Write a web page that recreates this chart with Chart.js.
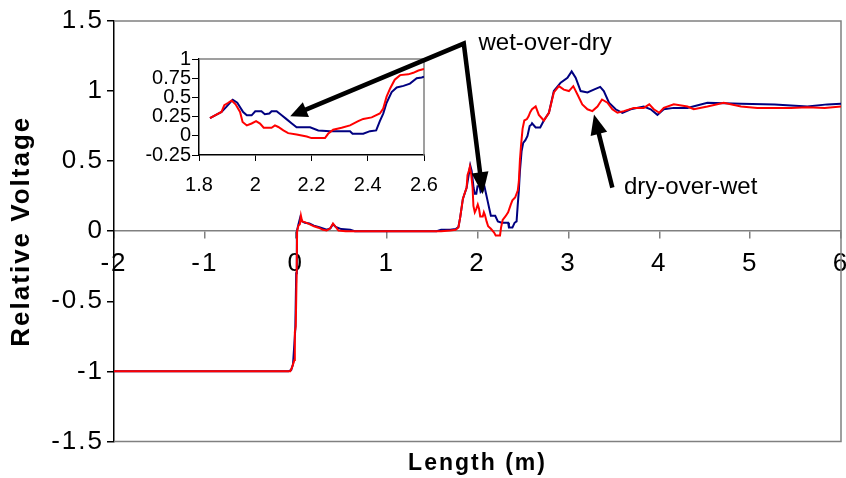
<!DOCTYPE html>
<html>
<head>
<meta charset="utf-8">
<script src="https://cdn.jsdelivr.net/npm/chart.js@4.4.1/dist/chart.umd.min.js"></script>
<style>
  html, body { margin: 0; padding: 0; background: #fff; }
  #wrap { position: relative; width: 846px; height: 478px; overflow: hidden; }
  #main { position: absolute; left: 0; top: 0; z-index: 2; }
  #inset { position: absolute; left: 120px; top: 40px; z-index: 1; }
</style>
</head>
<body>
<div id="wrap">
  <canvas id="inset" width="320" height="165"></canvas>
  <canvas id="main" width="846" height="478"></canvas>
</div>
<script>
// --- Dades (llegides del gràfic) ---
const redX = [-2, -0.06, -0.04, -0.015, -0.01, 0.0, 0.01, 0.015, 0.03, 0.045, 0.057, 0.07, 0.1, 0.15, 0.2, 0.25, 0.3, 0.34, 0.38, 0.41, 0.44, 0.47, 0.55,
  1.6, 1.7, 1.76, 1.79, 1.81, 1.839, 1.857, 1.88, 1.89, 1.904, 1.916, 1.93, 1.946, 1.955, 1.97, 1.987, 2.003, 2.017, 2.03, 2.058, 2.07, 2.082,
  2.10, 2.117, 2.147, 2.183, 2.20, 2.248, 2.259, 2.277, 2.307, 2.337, 2.366, 2.384, 2.414, 2.443, 2.455, 2.467, 2.48, 2.496, 2.515, 2.544,
  2.562, 2.58, 2.60, 2.64, 2.675, 2.73, 2.786, 2.84, 2.896, 2.95, 3.006, 3.054, 3.10, 3.153, 3.21, 3.264, 3.32, 3.37, 3.43, 3.484, 3.54,
  3.61, 3.72, 3.83, 3.89, 3.94, 4.0, 4.05, 4.16, 4.31, 4.38, 4.53, 4.71, 4.90, 5.08, 5.27, 5.45, 5.63, 5.82, 6.0];
const redY = [-1, -1, -0.97, -0.92, -0.72, -0.68, -0.3, 0.0, 0.04, 0.05, 0.11, 0.07, 0.065, 0.05, 0.035, 0.025, 0.01, 0.005, 0.02, 0.055, 0.03, 0.005, 0,
  0, 0.005, 0.01, 0.026, 0.1, 0.23, 0.267, 0.31, 0.40, 0.43, 0.46, 0.41, 0.31, 0.18, 0.135, 0.16, 0.19, 0.16, 0.105, 0.105, 0.135, 0.115,
  0.07, 0.035, 0.017, -0.01, -0.03, -0.03, 0.026, 0.08, 0.105, 0.135, 0.19, 0.22, 0.24, 0.29, 0.355, 0.51, 0.62, 0.73, 0.79, 0.80,
  0.82, 0.85, 0.87, 0.89, 0.83, 0.79, 0.845, 0.99, 1.035, 1.01, 1.0, 1.035, 0.976, 0.905, 0.87, 0.857, 0.89, 0.94, 0.917, 0.87, 0.845,
  0.857, 0.88, 0.88, 0.905, 0.87, 0.845, 0.88, 0.905, 0.89, 0.87, 0.89, 0.917, 0.89, 0.88, 0.88, 0.88, 0.885, 0.88, 0.89];

const blueX = [-2, -0.08, -0.05, -0.03, -0.015, -0.005, 0.005, 0.012, 0.03, 0.05, 0.07, 0.1, 0.15, 0.2, 0.25, 0.3, 0.34, 0.38, 0.41, 0.44, 0.5, 0.6, 0.65,
  1.55, 1.6, 1.7, 1.76, 1.79, 1.81, 1.839, 1.88, 1.898, 1.92, 1.936, 1.957, 1.97, 1.987, 2.0, 2.022, 2.034, 2.05, 2.058, 2.076, 2.094, 2.11,
  2.13, 2.147, 2.195, 2.224, 2.266, 2.337, 2.346, 2.384, 2.408, 2.43, 2.443, 2.455, 2.467, 2.485, 2.503, 2.527, 2.55, 2.574, 2.592, 2.60,
  2.64, 2.69, 2.73, 2.786, 2.84, 2.915, 2.99, 3.036, 3.08, 3.135, 3.21, 3.28, 3.35, 3.39, 3.447, 3.52, 3.594, 3.686, 3.83, 3.906, 3.98,
  4.05, 4.16, 4.31, 4.53, 4.90, 5.27, 5.63, 5.85, 6.0];
const blueY = [-1, -1, -0.99, -0.95, -0.8, -0.7, -0.3, 0.0, 0.05, 0.1, 0.07, 0.06, 0.055, 0.04, 0.03, 0.02, 0.01, 0.02, 0.05, 0.03, 0.015, 0.01, 0,
  0, 0.01, 0.01, 0.015, 0.03, 0.1, 0.23, 0.31, 0.38, 0.47, 0.43, 0.31, 0.267, 0.267, 0.32, 0.32, 0.28, 0.29, 0.32, 0.32, 0.267, 0.22,
  0.16, 0.11, 0.11, 0.07, 0.06, 0.06, 0.026, 0.026, 0.06, 0.07, 0.19, 0.29, 0.43, 0.57, 0.63, 0.65, 0.68, 0.75, 0.76, 0.77,
  0.74, 0.74, 0.79, 0.845, 1.0, 1.06, 1.095, 1.14, 1.095, 1.0, 0.99, 1.01, 1.03, 1.0, 0.917, 0.87, 0.845, 0.87, 0.89, 0.87, 0.83,
  0.87, 0.88, 0.88, 0.917, 0.91, 0.905, 0.89, 0.905, 0.91];

const xTicks = [-2, -1, 0, 1, 2, 3, 4, 5, 6];
const xTickLabels = ['-2', '-1', '0', '1', '2', '3', '4', '5', '6'];
const yTicks = [-1.5, -1, -0.5, 0, 0.5, 1, 1.5];
const yTickLabels = ['-1.5', '-1', '-0.5', '0', '0.5', '1', '1.5'];

const insetXTicks = [1.8, 2, 2.2, 2.4, 2.6];
const insetXTickLabels = ['1.8', '2', '2.2', '2.4', '2.6'];
const insetYTicks = [-0.25, 0, 0.25, 0.5, 0.75, 1];
const insetYTickLabels = ['-0.25', '0', '0.25', '0.5', '0.75', '1'];
const insetRange = [1.835, 2.605];

// Anotacions (en unitats de dades del gràfic principal)
const wetArrow = { tipInset: [-0.061, 0.821], vertex: [1.849, 1.339], tipMain: [2.058, 0.264] };
const dryArrow = { tip: [3.282, 0.833], tail: [3.484, 0.311] };
const labels = [
  { text: 'wet-over-dry', at: [2.011, 1.291] },
  { text: 'dry-over-wet', at: [3.612, 0.268] },
];

const FONT = '"Liberation Sans", Arial, sans-serif';
Chart.defaults.font.family = FONT;
Chart.defaults.color = '#000';

const RED = '#ff0000';
const BLUE = '#000080';

function points(xs, ys, range) {
  const pts = xs.map((x, i) => ({ x, y: ys[i] }));
  return range ? pts.filter(p => p.x >= range[0] && p.x <= range[1]) : pts;
}

function makeDataset(label, color, data) {
  return { label, data, showLine: true, borderColor: color, borderWidth: 2, pointRadius: 0, fill: false, tension: 0 };
}

// sense marge extra per a les etiquetes dels extrems
function noSidePadding(s) { s.paddingLeft = 0; s.paddingRight = 0; }

// --- Plugins ---
const spacingPlugin = {
  id: 'spacing',
  beforeDraw(chart) { chart.ctx.letterSpacing = '2px'; },
  afterDraw(chart) { chart.ctx.letterSpacing = '0px'; }
};

const framePlugin = {
  id: 'frame',
  beforeDatasetsDraw(chart, args, opts) {
    const { ctx, chartArea: a } = chart;
    ctx.save();
    ctx.strokeStyle = '#808080';
    ctx.lineWidth = 1.5;
    ctx.beginPath();
    ctx.moveTo(a.left, a.top);
    ctx.lineTo(a.right, a.top);
    ctx.lineTo(a.right, a.bottom);
    if (opts.bottom) ctx.lineTo(a.left, a.bottom);
    ctx.stroke();
    ctx.restore();
  }
};

function arrowHead(ctx, from, tip, len, half) {
  const dx = tip[0] - from[0], dy = tip[1] - from[1];
  const d = Math.hypot(dx, dy);
  const ux = dx / d, uy = dy / d;
  const bx = tip[0] - ux * len, by = tip[1] - uy * len;
  ctx.beginPath();
  ctx.moveTo(tip[0], tip[1]);
  ctx.lineTo(bx - uy * half, by + ux * half);
  ctx.lineTo(bx + uy * half, by - ux * half);
  ctx.closePath();
  ctx.fill();
  return [bx + ux * 2, by + uy * 2];
}

const annotationPlugin = {
  id: 'notes',
  afterDatasetsDraw(chart) {
    const { ctx, scales: { x, y } } = chart;
    const px = p => [x.getPixelForValue(p[0]), y.getPixelForValue(p[1])];
    ctx.save();
    ctx.letterSpacing = '0px';
    ctx.fillStyle = '#000';
    ctx.strokeStyle = '#000';
    ctx.lineWidth = 4.5;
    ctx.lineJoin = 'miter';

    const v = px(wetArrow.vertex);
    const tA = px(wetArrow.tipInset);
    const tB = px(wetArrow.tipMain);
    const bA = arrowHead(ctx, v, tA, 17, 8);
    const bB = arrowHead(ctx, v, tB, 22, 8.5);
    ctx.beginPath();
    ctx.moveTo(bA[0], bA[1]);
    ctx.lineTo(v[0], v[1]);
    ctx.lineTo(bB[0], bB[1]);
    ctx.stroke();

    const dTail = px(dryArrow.tail);
    const dTip = px(dryArrow.tip);
    const bD = arrowHead(ctx, dTail, dTip, 20, 8.5);
    ctx.beginPath();
    ctx.moveTo(dTail[0], dTail[1]);
    ctx.lineTo(bD[0], bD[1]);
    ctx.stroke();

    ctx.font = '24px ' + FONT;
    ctx.textBaseline = 'alphabetic';
    ctx.textAlign = 'left';
    labels.forEach(l => {
      const p = px(l.at);
      ctx.fillText(l.text, p[0], p[1]);
    });
    ctx.restore();
  }
};

// --- Gràfic principal ---
new Chart(document.getElementById('main'), {
  type: 'scatter',
  data: { datasets: [
    makeDataset('dry-over-wet', RED, points(redX, redY)),
    makeDataset('wet-over-dry', BLUE, points(blueX, blueY)),
  ]},
  options: {
    responsive: false,
    animation: false,
    events: [],
    layout: { padding: { top: 21, right: 5, bottom: 1, left: 0 } },
    scales: {
      x: {
        type: 'linear', min: -2, max: 6, position: { y: 0 },
        afterBuildTicks: s => { s.ticks = xTicks.map(v => ({ value: v })); },
        afterFit: noSidePadding,
        ticks: { callback: (v, i) => xTickLabels[i], font: { size: 26 }, padding: 10, autoSkip: false, maxRotation: 0 },
        grid: { drawOnChartArea: false, tickLength: 7, color: '#808080', lineWidth: 1.5 },
        border: { color: '#808080', width: 1.5 }
      },
      y: {
        type: 'linear', min: -1.5, max: 1.5,
        afterBuildTicks: s => { s.ticks = yTicks.map(v => ({ value: v })); },
        afterFit: s => { s.width = 114; },
        ticks: { callback: (v, i) => yTickLabels[i], font: { size: 26 }, padding: 3, autoSkip: false },
        grid: { drawOnChartArea: false, tickLength: 7, color: '#000', lineWidth: 1.5 },
        border: { color: '#000', width: 1.5 },
        title: { display: true, text: 'Relative Voltage', font: { size: 26, weight: 'bold' }, padding: { top: 6, bottom: 0 } }
      }
    },
    plugins: {
      legend: { display: false },
      tooltip: { enabled: false },
      frame: { bottom: true },
      title: {
        display: true, text: 'Length (m)', position: 'bottom', fullSize: false,
        font: { size: 23, weight: 'bold' }, padding: { top: 8, bottom: 0 }
      }
    }
  },
  plugins: [spacingPlugin, framePlugin, annotationPlugin]
});

// --- Gràfic inserit ---
new Chart(document.getElementById('inset'), {
  type: 'scatter',
  data: { datasets: [
    makeDataset('dry-over-wet', RED, points(redX, redY, insetRange)),
    makeDataset('wet-over-dry', BLUE, points(blueX, blueY, insetRange)),
  ]},
  options: {
    responsive: false,
    animation: false,
    events: [],
    layout: { padding: { top: 19, right: 16, bottom: 0, left: 0 } },
    scales: {
      x: {
        type: 'linear', min: 1.8, max: 2.6, position: 'bottom',
        afterBuildTicks: s => { s.ticks = insetXTicks.map(v => ({ value: v })); },
        afterFit: s => { s.height = 50; noSidePadding(s); },
        ticks: { callback: (v, i) => insetXTickLabels[i], font: { size: 20 }, padding: 12, autoSkip: false, maxRotation: 0 },
        grid: { drawOnChartArea: false, tickLength: 6, color: '#000' },
        border: { color: '#000', width: 1.5 }
      },
      y: {
        type: 'linear', min: -0.25, max: 1,
        afterBuildTicks: s => { s.ticks = insetYTicks.map(v => ({ value: v })); },
        afterFit: s => { s.width = 79; },
        ticks: { callback: (v, i) => insetYTickLabels[i], font: { size: 20 }, padding: 1, autoSkip: false },
        grid: { drawOnChartArea: false, tickLength: 7, color: '#000' },
        border: { color: '#000', width: 1.5 }
      }
    },
    plugins: {
      legend: { display: false },
      tooltip: { enabled: false },
      frame: { bottom: false }
    }
  },
  plugins: [framePlugin]
});
</script>
</body>
</html>
